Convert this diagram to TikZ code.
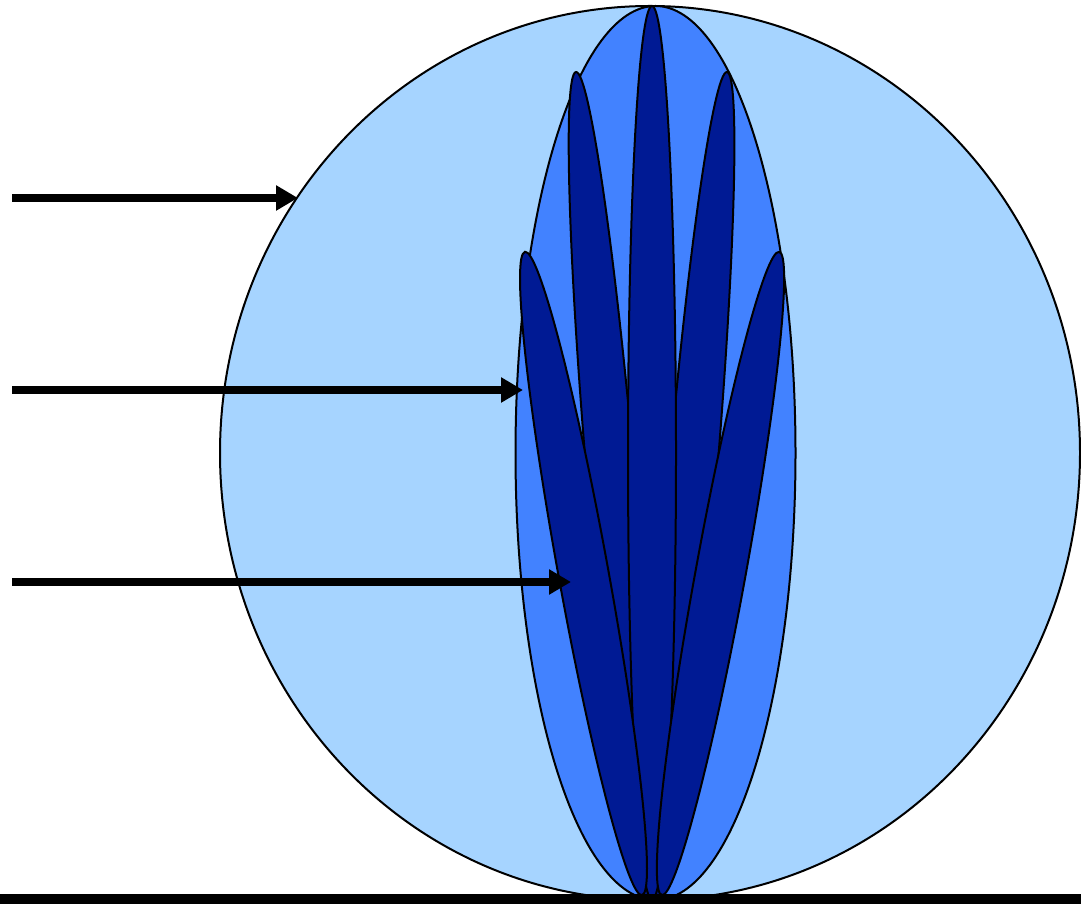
\documentclass[tikz,border=0pt]{standalone}
\usetikzlibrary{arrows.meta}
\definecolor{lightblue}{RGB}{166,212,255}
\definecolor{midblue}{RGB}{66,130,255}
\definecolor{darkblue}{RGB}{0,26,148}
\tikzset{
  outline/.style={draw=black, line width=2pt},
  petal/.style={outline, fill=darkblue},
  pointer/.style={line width=8pt, -{Triangle[length=22pt,width=24pt]}},
}
\begin{document}
\begin{tikzpicture}[x=1pt,y=1pt]
\useasboundingbox (0,0) rectangle (1081,904);
% big sphere
\path[outline, fill=lightblue] (650,451) ellipse [x radius=430pt, y radius=447pt];
% medium ellipse
\path[outline, fill=midblue] (655.5,451) ellipse [x radius=140pt, y radius=447pt];
% petals
\path[petal, rotate around={94.92:(611.5,419.5)}] (611.5,419.5) ellipse [x radius=414pt, y radius=24pt];
\path[petal, rotate around={85.15:(692,419.5)}] (692,419.5) ellipse [x radius=414pt, y radius=24pt];
\path[petal] (652,451) ellipse [x radius=24pt, y radius=447pt];
\path[petal, rotate around={100.31:(583.5,330.5)}] (583.5,330.5) ellipse [x radius=327pt, y radius=25pt];
\path[petal, rotate around={79.66:(720.5,330.5)}] (720.5,330.5) ellipse [x radius=327pt, y radius=25pt];
% ground line
\coordinate (g1) at (0,5);
\coordinate (g2) at (1081,5);
\draw[line width=10pt] (g1) -- (g2);
% arrows
\coordinate (a1s) at (12,706);
\coordinate (a1e) at (298,706);
\coordinate (a2s) at (12,514);
\coordinate (a2e) at (523,514);
\coordinate (a3s) at (12,322);
\coordinate (a3e) at (571,322);
\draw[pointer] (a1s) -- (a1e);
\draw[pointer] (a2s) -- (a2e);
\draw[pointer] (a3s) -- (a3e);
\end{tikzpicture}
\end{document}
